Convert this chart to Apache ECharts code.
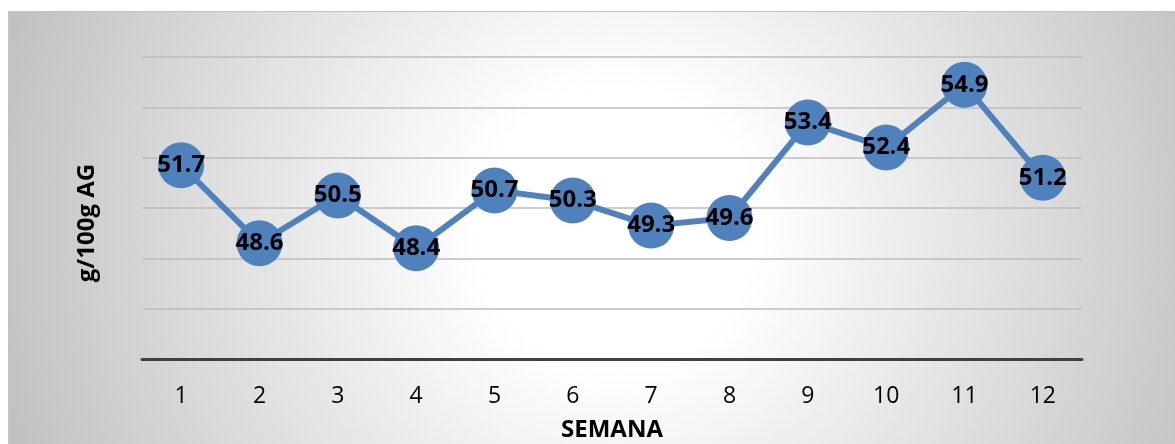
<!DOCTYPE html>
<html>
<head>
<meta charset="utf-8">
<script src="https://cdn.jsdelivr.net/npm/echarts@6/dist/echarts.min.js"></script>
<style>
  html, body { margin: 0; padding: 0; background: #fff; }
  #chart { width: 1175px; height: 444px; }
</style>
</head>
<body>
<div id="chart"></div>
<script>
// semanas y valores (g/100g AG)
const semanas = ["1", "2", "3", "4", "5", "6", "7", "8", "9", "10", "11", "12"];
const valores = [51.7, 48.6, 50.5, 48.4, 50.7, 50.3, 49.3, 49.6, 53.4, 52.4, 54.9, 51.2];
const yMin = 44;
const yMax = 56;
const yStep = 2;

const font = "'Open Sans', 'Liberation Sans', sans-serif";
const chart = echarts.init(document.getElementById("chart"));

chart.setOption({
  animation: false,
  graphic: [
    {
      type: "rect",
      left: 8,
      top: 11,
      z: -10,
      shape: { width: 1167, height: 433 },
      style: {
        fill: {
          type: "radial",
          x: 0.52,
          y: 0.5,
          r: 1.45,
          colorStops: [
            { offset: 0, color: "#ffffff" },
            { offset: 0.22, color: "#ffffff" },
            { offset: 1, color: "#c2c2c2" },
          ],
        },
        stroke: "#c4c4c4",
        lineWidth: 1,
      },
    },
  ],
  grid: { left: 142, right: 93, top: 57, bottom: 85, outerBoundsMode: "none" },
  xAxis: {
    type: "category",
    data: semanas,
    boundaryGap: true,
    name: "SEMANA",
    nameLocation: "middle",
    nameGap: 59,
    nameTextStyle: { fontFamily: font, fontWeight: "bold", fontSize: 24, color: "#000" },
    axisLine: { lineStyle: { color: "#404040", width: 3 } },
    axisTick: { show: false },
    axisLabel: { fontFamily: font, fontSize: 23, color: "#000", margin: 26 },
  },
  yAxis: {
    type: "value",
    min: yMin,
    max: yMax,
    interval: yStep,
    name: "g/100g AG",
    nameLocation: "middle",
    nameGap: 43,
    nameTextStyle: { fontFamily: font, fontWeight: "bold", fontSize: 24, color: "#000", padding: [0, 30, 0, 0] },
    axisLine: { show: false },
    axisTick: { show: false },
    axisLabel: { show: false },
    splitLine: { lineStyle: { color: "#bdbdbd", width: 1.5 } },
  },
  series: [
    {
      type: "line",
      data: valores,
      symbol: "circle",
      symbolSize: 46,
      itemStyle: { color: "#4f81bd" },
      lineStyle: { color: "#4f81bd", width: 6 },
      label: {
        show: true,
        position: "inside",
        fontFamily: font,
        fontWeight: "bold",
        fontSize: 24,
        color: "#000",
        formatter: (p) => p.value.toFixed(1),
      },
    },
  ],
});
</script>
</body>
</html>
